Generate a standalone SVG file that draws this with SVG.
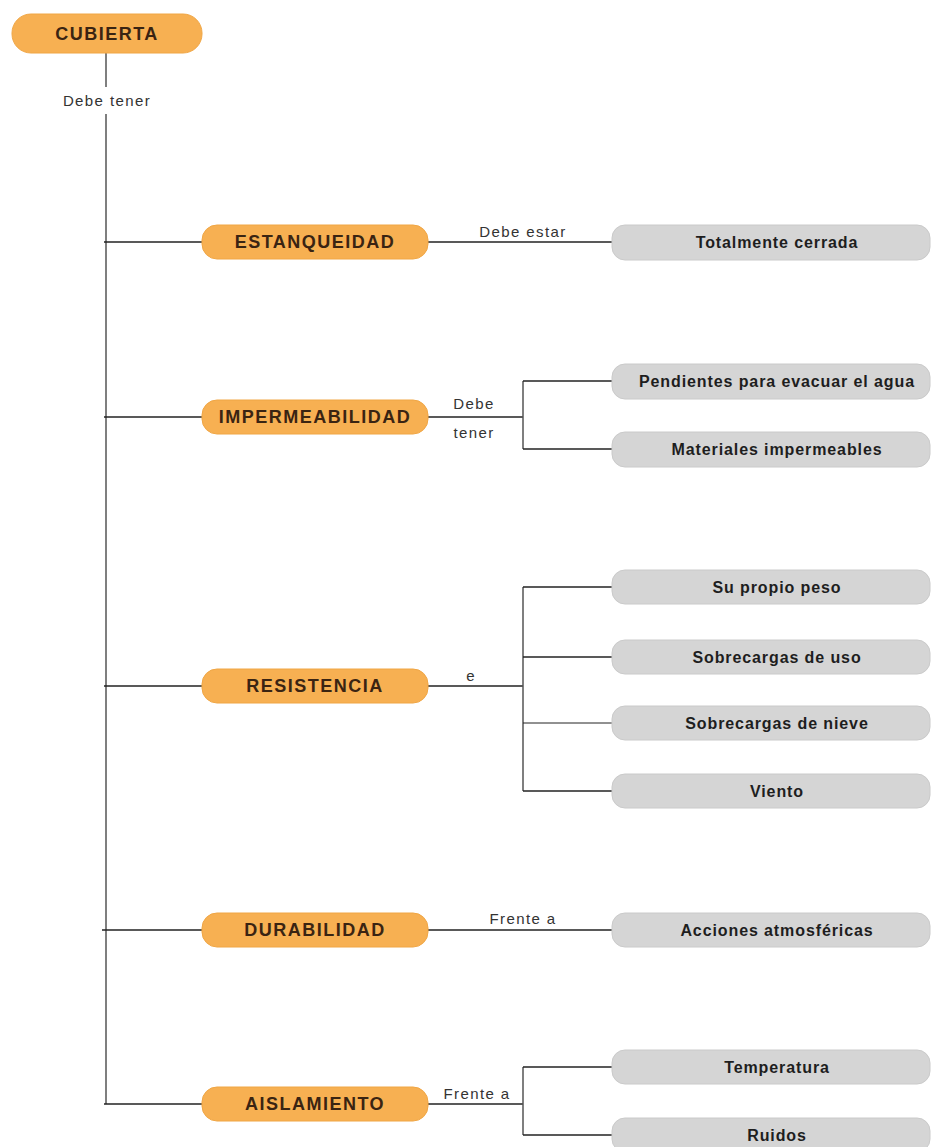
<svg xmlns="http://www.w3.org/2000/svg" width="932" height="1147" viewBox="0 0 932 1147">
<style>
.bg{fill:#ffffff}
.main rect{fill:#F7B052;stroke:#F0A645;stroke-width:1}
.main text{font-family:"Liberation Sans",Arial,sans-serif;font-weight:bold;font-size:18px;letter-spacing:1.5px;fill:#3a2412;text-anchor:middle;dominant-baseline:central}
.leaf rect{fill:#D5D5D5;stroke:#CACACA;stroke-width:1}
.leaf text{font-family:"Liberation Sans",Arial,sans-serif;font-weight:bold;font-size:16px;letter-spacing:0.9px;fill:#1e1e1e;text-anchor:middle;dominant-baseline:central}
.lbl{font-family:"Liberation Sans",Arial,sans-serif;font-size:15px;letter-spacing:1.4px;fill:#333333;text-anchor:middle;dominant-baseline:central}
.ln{stroke:#222222;stroke-width:1.6;fill:none}
.trunk{stroke:#555555;stroke-width:1.5;fill:none}
</style>
<rect class="bg" x="0" y="0" width="932" height="1147"/>
<g id="connectors">
  <line class="trunk" x1="106" y1="53" x2="106" y2="87"/>
  <line class="trunk" x1="106" y1="114" x2="106" y2="1104"/>
  <line class="ln" x1="104" y1="242" x2="202" y2="242"/>
  <line class="ln" x1="104" y1="417" x2="202" y2="417"/>
  <line class="ln" x1="104" y1="686" x2="202" y2="686"/>
  <line class="ln" x1="102" y1="930" x2="202" y2="930"/>
  <line class="ln" x1="104" y1="1104" x2="202" y2="1104"/>
  <line class="ln" x1="428" y1="242" x2="612" y2="242"/>
  <line class="ln" x1="428" y1="417" x2="523" y2="417"/>
  <line class="trunk" x1="523" y1="381" x2="523" y2="449"/>
  <line class="ln" x1="523" y1="381" x2="612" y2="381"/>
  <line class="ln" x1="523" y1="449" x2="612" y2="449"/>
  <line class="ln" x1="428" y1="686" x2="523" y2="686"/>
  <line class="trunk" x1="523" y1="587" x2="523" y2="791"/>
  <line class="ln" x1="523" y1="587" x2="612" y2="587"/>
  <line class="ln" x1="523" y1="657" x2="612" y2="657"/>
  <line class="ln" x1="523" y1="723" x2="612" y2="723" style="stroke-width:1"/>
  <line class="ln" x1="523" y1="791" x2="612" y2="791"/>
  <line class="ln" x1="428" y1="930" x2="612" y2="930"/>
  <line class="ln" x1="428" y1="1104" x2="523" y2="1104"/>
  <line class="trunk" x1="523" y1="1067" x2="523" y2="1135"/>
  <line class="ln" x1="523" y1="1067" x2="612" y2="1067"/>
  <line class="ln" x1="523" y1="1135" x2="612" y2="1135"/>
  <text class="lbl" x="107" y="100">Debe tener</text>
  <text class="lbl" x="523" y="231">Debe estar</text>
  <text class="lbl" x="474" y="403">Debe</text>
  <text class="lbl" x="474" y="432">tener</text>
  <text class="lbl" x="471" y="675">e</text>
  <text class="lbl" x="523" y="918">Frente a</text>
  <text class="lbl" x="477" y="1093">Frente a</text>
</g>
<g id="n-cubierta" class="main"><rect x="12" y="14" width="190" height="39" rx="19"/><text x="107" y="34">CUBIERTA</text></g>
<g id="n-estanqueidad" class="main"><rect x="202" y="225" width="226" height="34" rx="15"/><text x="315" y="242">ESTANQUEIDAD</text></g>
<g id="n-impermeabilidad" class="main"><rect x="202" y="400" width="226" height="34" rx="15"/><text x="315" y="417">IMPERMEABILIDAD</text></g>
<g id="n-resistencia" class="main"><rect x="202" y="669" width="226" height="34" rx="15"/><text x="315" y="686">RESISTENCIA</text></g>
<g id="n-durabilidad" class="main"><rect x="202" y="913" width="226" height="34" rx="15"/><text x="315" y="930">DURABILIDAD</text></g>
<g id="n-aislamiento" class="main"><rect x="202" y="1087" width="226" height="34" rx="15"/><text x="315" y="1104">AISLAMIENTO</text></g>
<g id="n-totalmente" class="leaf"><rect x="612" y="225" width="318" height="35" rx="13"/><text x="777" y="242">Totalmente cerrada</text></g>
<g id="n-pendientes" class="leaf"><rect x="612" y="364" width="318" height="35" rx="13"/><text x="777" y="381">Pendientes para evacuar el agua</text></g>
<g id="n-materiales" class="leaf"><rect x="612" y="432" width="318" height="35" rx="13"/><text x="777" y="449">Materiales impermeables</text></g>
<g id="n-peso" class="leaf"><rect x="612" y="570" width="318" height="34" rx="13"/><text x="777" y="587">Su propio peso</text></g>
<g id="n-uso" class="leaf"><rect x="612" y="640" width="318" height="34" rx="13"/><text x="777" y="657">Sobrecargas de uso</text></g>
<g id="n-nieve" class="leaf"><rect x="612" y="706" width="318" height="34" rx="13"/><text x="777" y="723">Sobrecargas de nieve</text></g>
<g id="n-viento" class="leaf"><rect x="612" y="774" width="318" height="34" rx="13"/><text x="777" y="791">Viento</text></g>
<g id="n-acciones" class="leaf"><rect x="612" y="913" width="318" height="34" rx="13"/><text x="777" y="930">Acciones atmosféricas</text></g>
<g id="n-temperatura" class="leaf"><rect x="612" y="1050" width="318" height="34" rx="13"/><text x="777" y="1067">Temperatura</text></g>
<g id="n-ruidos" class="leaf"><rect x="612" y="1118" width="318" height="34" rx="13"/><text x="777" y="1135">Ruidos</text></g>
</svg>
